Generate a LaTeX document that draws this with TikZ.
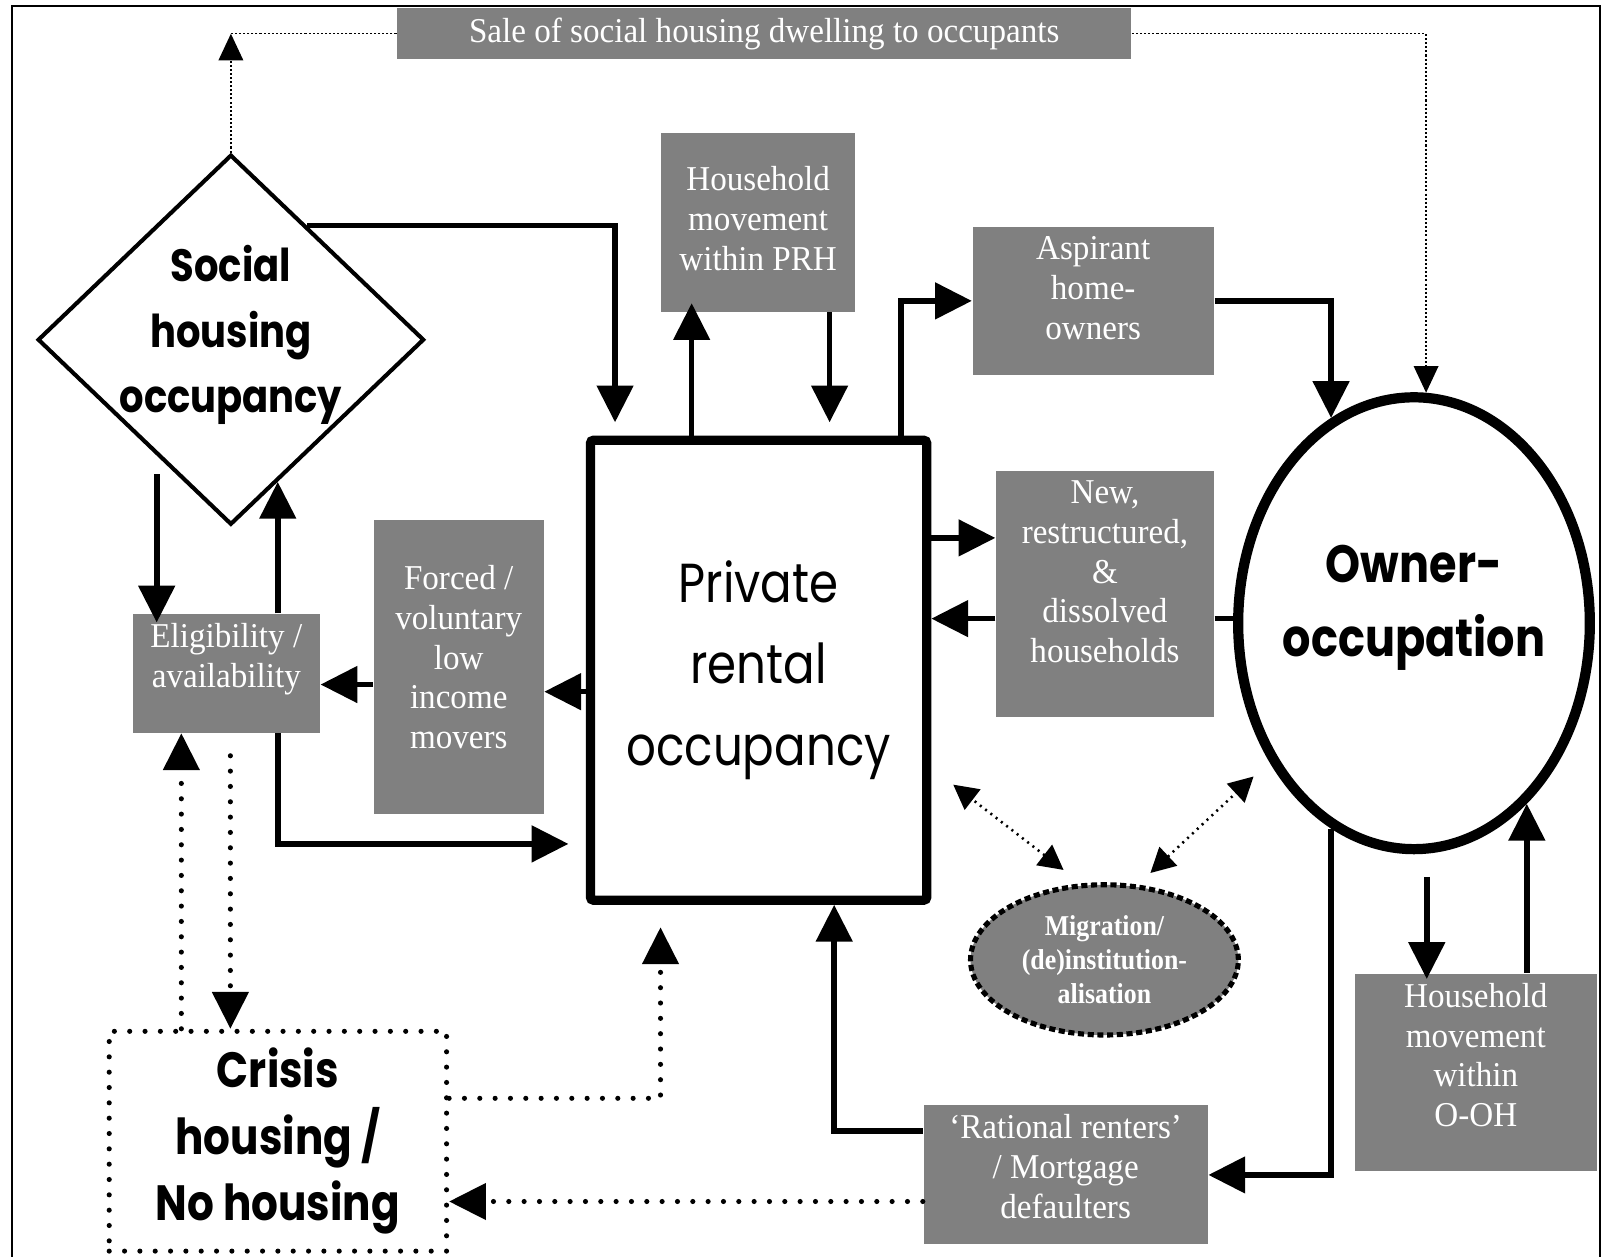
\documentclass[tikz,border=0pt]{standalone}
\usepackage{fontspec}
\setmainfont{Liberation Serif}[FakeStretch=0.95]
\newfontfamily\comic{Poppins}[FakeStretch=0.85]
\newfontfamily\migserif{Liberation Serif}[FakeStretch=0.9]
\usetikzlibrary{shapes.geometric,arrows.meta,calc}
\definecolor{boxgray}{HTML}{808080}
\newcommand{\boxsink}[1]{\rule[-#1]{0pt}{#1}}

\begin{document}
\begin{tikzpicture}[x=0.01cm,y=-0.01cm,
  graybox/.style={fill=boxgray,text=white,align=center,inner sep=0pt,
    font=\fontsize{9.7}{11.1}\selectfont},
  flow/.style={line width=0.055cm,-{Triangle[length=0.36cm,width=0.35cm]}},
  dotflow/.style={line width=0.05cm,line cap=round,dash pattern=on 0pt off 0.15cm,
    -{Triangle[length=0.36cm,width=0.35cm]}},
  saleline/.style={line width=0.015cm,dash pattern=on 0.02cm off 0.02cm},
  saleflow/.style={saleline,-{Triangle[length=0.26cm,width=0.24cm]}},
  migflow/.style={line width=0.025cm,dash pattern=on 0.02cm off 0.045cm,
    {Triangle[length=0.24cm,width=0.25cm]}-{Triangle[length=0.24cm,width=0.25cm]}}]
\useasboundingbox (0,0) rectangle (1568,1230);
\draw[line width=0.02cm] (11.5,1240) -- (11.5,6) -- (1566,6) -- (1566,1240);

\node[graybox,minimum width=7.18cm,minimum height=0.50cm] (sale) at (748,33) {Sale of social housing dwelling to occupants};
\node[diamond,draw,line width=0.04cm,minimum width=3.78cm,minimum height=3.62cm,inner sep=0pt] (social) at (226,332.5) {};
\node[align=center,font=\comic\bfseries\fontsize{12.6}{18.2}\selectfont] (socialtxt) at (226,328) {Social\\housing\\occupancy};
\node[graybox,minimum width=1.90cm,minimum height=1.75cm] (hm) at (742,217.5) {Household\\movement\\within PRH\boxsink{0.08cm}};
\node[graybox,minimum width=2.36cm,minimum height=1.45cm] (asp) at (1070,294.5) {Aspirant\\home-\\owners\boxsink{0.26cm}};
\node[draw,line width=0.09cm,rounded corners=0.03cm,minimum width=3.29cm,minimum height=4.50cm,align=center,font=\comic\fontsize{15.3}{22.8}\selectfont] (pro) at (742.5,656) {Private\\rental\\occupancy};
\node[graybox,minimum width=2.13cm,minimum height=2.41cm] (newhh) at (1081.5,581.5) {New,\\restructured,\\\&\\dissolved\\households\boxsink{0.44cm}};
\node[ellipse,draw,line width=0.1cm,minimum width=3.44cm,minimum height=4.42cm] (own) at (1384,610) {};
\node[align=center,font=\comic\bfseries\fontsize{14.6}{20.8}\selectfont] (owntxt) at (1384,595) {Owner-\\occupation};
\node[graybox,minimum width=1.66cm,minimum height=2.88cm] (forced) at (449,653) {Forced /\\voluntary\\low\\income\\movers\boxsink{0.2cm}};
\node[graybox,minimum width=1.83cm,minimum height=1.16cm] (elig) at (221.5,659) {Eligibility /\\availability\boxsink{0.35cm}};
\node[draw,line width=0.05cm,line cap=round,dash pattern=on 0pt off 0.15cm,minimum width=3.30cm,minimum height=2.15cm,align=center,font=\comic\bfseries\fontsize{13.8}{18.5}\selectfont] (crisis) at (272,1117) {Crisis\\housing /\\No housing};
\node[ellipse,draw,fill=boxgray,line width=0.05cm,dash pattern=on 0.06cm off 0.035cm,minimum width=2.62cm,minimum height=1.47cm,inner sep=0pt,align=center,text=white,font=\migserif\bfseries\fontsize{8}{9.4}\selectfont] (mig) at (1081,939.5) {Migration/\\(de)institution-\\alisation};
\node[graybox,minimum width=2.78cm,minimum height=1.36cm] (rat) at (1043,1150) {‘Rational renters’\\/ Mortgage\\defaulters\boxsink{0.17cm}};
\node[graybox,minimum width=2.37cm,minimum height=1.93cm] (ooh) at (1444.5,1049.5) {Household\\movement\\within\\O-OH\boxsink{0.34cm}};

\coordinate (sr) at ($(social.east)!0.76!(social.south)$);
\coordinate (sl) at ($(social.west)!0.62!(social.south)$);
\coordinate (fl) at ($(forced.west)+(0,17)$);
\coordinate (pl) at ($(pro.west)+(0,21)$);
\coordinate (up) at ($(elig.south)+(-44,0)$);
\coordinate (dn) at ($(elig.south)+(4,22)$);
\coordinate (nw1) at ($(newhh.west)+(0,-55)$);
\coordinate (nw2) at ($(newhh.west)+(0,24)$);
\coordinate (rl) at ($(rat.west)+(0,26)$);
\coordinate (od) at ($(ooh.north)+(-48,0)$);
\coordinate (m1) at (933,768);
\coordinate (m2) at (1227,760);

\draw[flow,shorten >=0.13cm] ($(social.north)!0.39!(social.east)$) -| (602,0 |- pro.north);
\draw[flow,shorten >=-0.09cm] (677,0 |- pro.north) -- (677,0 |- hm.south);
\draw[flow,shorten >=0.13cm] (812,0 |- hm.south) -- (812,0 |- pro.north);
\draw[flow] (882,0 |- pro.north) |- (asp.west);
\draw[flow] (asp.east) -| (own.112);
\draw[saleflow] (social.north) -- (social.north |- sale.west);
\draw[saleline] (sale.west) -- (social.north |- sale.west);
\draw[saleflow] (sale.east) -| (own.87);
\draw[flow,shorten <=0.18cm,shorten >=-0.09cm] (sl) -- (sl |- elig.north);
\draw[flow] (sr |- elig.north) -- (sr);
\draw[flow] (fl) -- (fl -| elig.east);
\draw[flow] (pl) -- (pl -| forced.east);
\draw[flow,shorten >=0.17cm] (sr |- elig.south) |- ($(pro.west)+(0,170)$);
\draw[dotflow] (up |- crisis.north) -- (up);
\draw[dotflow] (dn) -- (dn |- crisis.north);
\draw[dotflow] ($(crisis.east)+(0,-42)$) -| ($(pro.south)+(-96,22)$);
\draw[dotflow] (rl) -- (rl -| crisis.east);
\draw[flow] ($(rat.west)+(0,-43)$) -| ($(pro.south)+(74,0)$);
\draw[flow] (own.248) |- (rat.east);
\draw[flow,shorten <=0.22cm,shorten >=-0.06cm] (own.south -| od) -- (od);
\draw[flow] (own.-58 |- ooh.north) -- (own.-58);
\draw[flow] (pro.east |- nw1) -- (nw1);
\draw[flow] (nw2) -- (pro.east |- nw2);
\draw[line width=0.055cm] (newhh.east |- nw2) -- (own.west |- nw2);
\draw[migflow] ($(mig.north)+(-40,-12)$) -- (m1);
\draw[migflow] ($(mig.north)+(45,-9)$) -- (m2);
\end{tikzpicture}
\end{document}
